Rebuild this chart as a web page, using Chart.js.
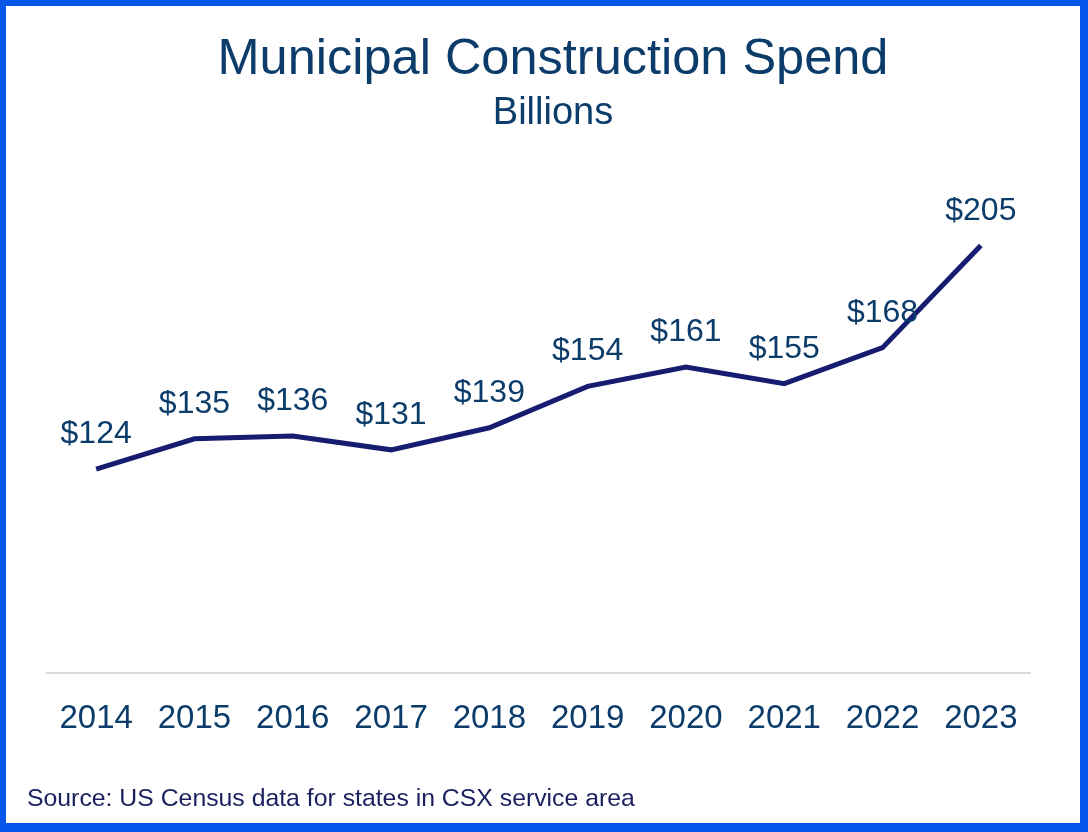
<!DOCTYPE html>
<html>
<head>
<meta charset="utf-8">
<script src="https://cdn.jsdelivr.net/npm/chart.js@4"></script>
<style>
  html, body { margin: 0; padding: 0; background: #fff; }
  #frame {
    width: 1088px; height: 832px; box-sizing: border-box;
    border-style: solid; border-color: #0656ec;
    border-width: 6px 8px 9px 6px;
  }
  canvas { display: block; }
</style>
</head>
<body>
<div id="frame"><canvas id="spendChart" width="1074" height="817"></canvas></div>
<script>
// --- datos ---
const years = ['2014', '2015', '2016', '2017', '2018', '2019', '2020', '2021', '2022', '2023'];
const spend = [124, 135, 136, 131, 139, 154, 161, 155, 168, 205];
const yMin = 50;
const yMax = 240;

const fontFamily = '"Liberation Sans", Arial, Helvetica, sans-serif';
const navyText = '#0b3c6a';
const lineColor = '#161d70';

// titulo y subtitulo (centrados un poco a la derecha, como en la imagen)
const titleBlock = {
    id: 'titleBlock',
    afterDraw(chart) {
        const ctx = chart.ctx;
        ctx.save();
        ctx.fillStyle = navyText;
        ctx.textAlign = 'center';
        ctx.textBaseline = 'alphabetic';
        ctx.font = '50.5px ' + fontFamily;
        ctx.fillText('Municipal Construction Spend', 547, 68);
        ctx.font = '38px ' + fontFamily;
        ctx.fillText('Billions', 547, 118);
        ctx.restore();
    }
};

// etiquetas de valor encima de cada punto
const valueLabels = {
    id: 'valueLabels',
    afterDatasetsDraw(chart) {
        const ctx = chart.ctx;
        const meta = chart.getDatasetMeta(0);
        ctx.save();
        ctx.font = '32px ' + fontFamily;
        ctx.fillStyle = navyText;
        ctx.textAlign = 'center';
        ctx.textBaseline = 'alphabetic';
        meta.data.forEach((pt, i) => {
            ctx.fillText('$' + spend[i], pt.x, pt.y - 26);
        });
        ctx.restore();
    }
};

// nota de fuente abajo
const sourceNote = {
    id: 'sourceNote',
    afterDraw(chart) {
        const ctx = chart.ctx;
        ctx.save();
        ctx.font = '24.8px ' + fontFamily;
        ctx.fillStyle = '#1a1f5e';
        ctx.textAlign = 'left';
        ctx.textBaseline = 'alphabetic';
        ctx.fillText('Source: US Census data for states in CSX service area', 21, 800);
        ctx.restore();
    }
};

const ctx = document.getElementById('spendChart').getContext('2d');
new Chart(ctx, {
    type: 'line',
    data: {
        labels: years,
        datasets: [{
            data: spend,
            borderColor: lineColor,
            borderWidth: 5,
            pointRadius: 0,
            tension: 0,
            fill: false,
            clip: false
        }]
    },
    options: {
        responsive: false,
        animation: false,
        layout: { padding: { left: 41, right: 50, top: 143, bottom: 58 } },
        plugins: {
            legend: { display: false },
            tooltip: { enabled: false },
            title: { display: false }
        },
        scales: {
            x: {
                offset: true,
                grid: { display: false, drawTicks: false, tickLength: 0 },
                border: { display: true, color: '#d9d9d9', width: 2 },
                ticks: {
                    color: navyText,
                    font: { family: fontFamily, size: 33 },
                    padding: 26,
                    maxRotation: 0,
                    autoSkip: false
                }
            },
            y: {
                display: false,
                min: yMin,
                max: yMax
            }
        }
    },
    plugins: [titleBlock, valueLabels, sourceNote]
});
</script>
</body>
</html>
